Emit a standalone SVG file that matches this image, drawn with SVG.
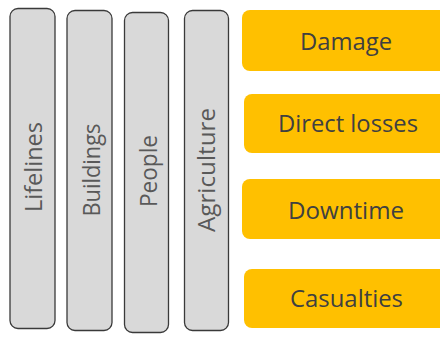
<svg xmlns="http://www.w3.org/2000/svg" width="440" height="338" viewBox="0 0 440 338">
<style>
.bar{fill:#d9d9d9;stroke:#3a3a3a;stroke-width:1.3}
.box{fill:#ffc000}
.vt{font-family:"Open Sans","Liberation Sans",sans-serif;font-size:24px;fill:#595959;text-anchor:middle}
.ht{font-family:"Open Sans","Liberation Sans",sans-serif;font-size:24px;fill:#404040;text-anchor:middle}
</style>
<rect width="440" height="338" fill="#ffffff"/>
<g id="lifelines">
<rect class="bar" x="10" y="8.5" width="45" height="320" rx="8"/>
<text class="vt" transform="translate(41.5,167) rotate(-90)" textLength="90" lengthAdjust="spacingAndGlyphs">Lifelines</text>
</g>
<g id="buildings">
<rect class="bar" x="67" y="10.5" width="45" height="320" rx="8"/>
<text class="vt" transform="translate(100,170) rotate(-90)" textLength="93" lengthAdjust="spacingAndGlyphs">Buildings</text>
</g>
<g id="people">
<rect class="bar" x="124.5" y="12.5" width="44" height="320" rx="8"/>
<text class="vt" transform="translate(156.5,171) rotate(-90)" textLength="72" lengthAdjust="spacingAndGlyphs">People</text>
</g>
<g id="agriculture">
<rect class="bar" x="184.5" y="10.5" width="44" height="320" rx="8"/>
<text class="vt" transform="translate(215,170) rotate(-90)" textLength="124" lengthAdjust="spacingAndGlyphs">Agriculture</text>
</g>
<g id="damage">
<rect class="box" x="242" y="10" width="210" height="61" rx="8"/>
<text class="ht" x="346" y="50" textLength="92" lengthAdjust="spacingAndGlyphs">Damage</text>
</g>
<g id="direct-losses">
<rect class="box" x="244" y="94" width="210" height="59" rx="8"/>
<text class="ht" x="348" y="132" textLength="140" lengthAdjust="spacingAndGlyphs">Direct losses</text>
</g>
<g id="downtime">
<rect class="box" x="242" y="179" width="210" height="60" rx="8"/>
<text class="ht" x="346" y="219" textLength="116" lengthAdjust="spacingAndGlyphs">Downtime</text>
</g>
<g id="casualties">
<rect class="box" x="244" y="269" width="210" height="59" rx="8"/>
<text class="ht" x="346.5" y="307" textLength="113" lengthAdjust="spacingAndGlyphs">Casualties</text>
</g>
<g id="connectors"></g>
</svg>
